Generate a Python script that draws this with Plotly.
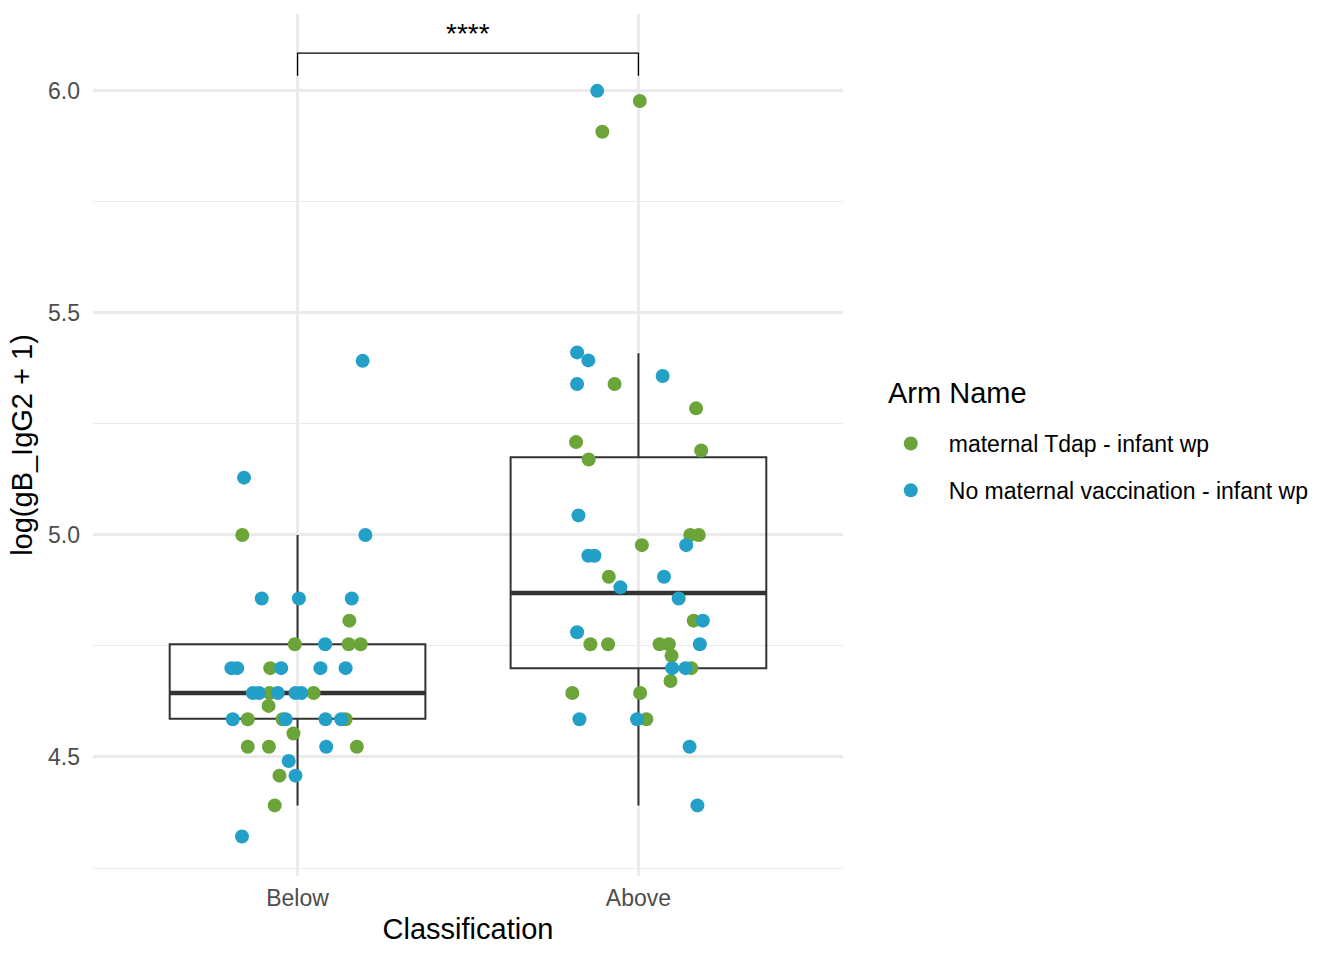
import plotly.graph_objects as go

TITLE_FONT = 'Liberation Sans, Arial, sans-serif'

CLASSES = ['Below', 'Above']
ARMS = ['maternal Tdap - infant wp', 'No maternal vaccination - infant wp']
ARM_COLORS = ['#6BA53A', '#22A0C8']
LEGEND_TITLE = 'Arm Name'

# jittered points, maternal Tdap arm (class index, jitter offset, value)
tdap_class = [0] * 18 + [1] * 22
tdap_jitter = [
    -0.162, 0.152, -0.008, 0.150, 0.185, -0.080, -0.082, 0.047, -0.085,
    -0.146, -0.044, 0.141, -0.012, -0.146, -0.084, 0.174, -0.053, -0.067,
    0.004, -0.106, -0.070, 0.169, -0.183, 0.184, -0.146, 0.152, 0.177,
    0.010, -0.087, 0.162, -0.141, -0.089, 0.062, 0.089, 0.097, 0.155,
    0.094, -0.194, 0.005, 0.023,
]
tdap_value = [
    5.000, 4.807, 4.754, 4.754, 4.754, 4.700, 4.644, 4.644, 4.615,
    4.585, 4.585, 4.585, 4.553, 4.523, 4.523, 4.523, 4.458, 4.391,
    5.977, 5.908, 5.340, 5.285, 5.209, 5.190, 5.170, 5.000, 5.000,
    4.977, 4.906, 4.807, 4.754, 4.754, 4.754, 4.754, 4.728, 4.700,
    4.671, 4.644, 4.644, 4.585,
]

# jittered points, no maternal vaccination arm
novax_class = [0] * 25 + [1] * 21
novax_jitter = [
    0.191, -0.157, 0.199, -0.105, 0.004, 0.159, 0.081, -0.194, -0.177,
    -0.048, 0.067, 0.141, -0.131, -0.113, -0.058, -0.006, 0.011, -0.190,
    -0.035, 0.082, 0.128, 0.084, -0.026, -0.006, -0.163,
    -0.121, -0.180, -0.147, 0.071, -0.180, -0.176, 0.140, -0.147, -0.129,
    0.075, -0.053, 0.118, 0.189, -0.180, 0.180, 0.099, 0.138, -0.173,
    -0.004, 0.150, 0.173,
]
novax_value = [
    5.392, 5.129, 5.000, 4.857, 4.857, 4.857, 4.754, 4.700, 4.700,
    4.700, 4.700, 4.700, 4.644, 4.644, 4.644, 4.644, 4.644, 4.585,
    4.585, 4.585, 4.585, 4.523, 4.491, 4.458, 4.321,
    6.000, 5.411, 5.393, 5.358, 5.340, 5.044, 4.977, 4.953, 4.953,
    4.906, 4.882, 4.857, 4.807, 4.781, 4.754, 4.700, 4.700, 4.585,
    4.585, 4.523, 4.391,
]

# box statistics per class
box_lower = [4.391, 4.391]
box_q1 = [4.586, 4.700]
box_median = [4.644, 4.869]
box_q3 = [4.754, 5.175]
box_upper = [5.000, 5.409]

# significance bracket
SIG_LABEL = '****'
SIG_TIP = 6.034
SIG_TOP = 6.085
SIG_TEXT_Y = 6.130

BOX_WIDTH = 0.75


def add_boxes(fig):
    idx = list(range(len(CLASSES)))
    fig.add_trace(go.Box(
        x=idx,
        q1=box_q1,
        median=box_median,
        q3=box_q3,
        lowerfence=box_lower,
        upperfence=box_upper,
        width=BOX_WIDTH,
        whiskerwidth=0,
        fillcolor='rgba(0,0,0,0)',
        line={'color': '#333333', 'width': 2},
        boxpoints=False,
        showlegend=False,
        hoverinfo='skip',
    ))
    # ggplot draws a fatter median bar
    mx, my = [], []
    for i, m in zip(idx, box_median):
        mx += [i - BOX_WIDTH / 2, i + BOX_WIDTH / 2, None]
        my += [m, m, None]
    fig.add_trace(go.Scatter(
        x=mx, y=my, mode='lines',
        line={'color': '#333333', 'width': 4.5},
        showlegend=False, hoverinfo='skip',
    ))


def add_points(fig, cls, jitter, value, name, color, group):
    fig.add_trace(go.Scatter(
        x=[c + j for c, j in zip(cls, jitter)],
        y=value,
        mode='markers',
        name=name,
        legendgroup=group,
        marker={'color': color, 'size': 14},
    ))


fig = go.Figure()
add_boxes(fig)
add_points(fig, tdap_class, tdap_jitter, tdap_value, ARMS[0], ARM_COLORS[0], 'a')
add_points(fig, novax_class, novax_jitter, novax_value, ARMS[1], ARM_COLORS[1], 'b')

fig.add_trace(go.Scatter(
    x=[0, 0, 1, 1],
    y=[SIG_TIP, SIG_TOP, SIG_TOP, SIG_TIP],
    mode='lines',
    line={'color': 'black', 'width': 1.3},
    showlegend=False, hoverinfo='skip',
))
fig.add_annotation(
    x=0.5, y=SIG_TEXT_Y, text=SIG_LABEL, showarrow=False,
    font={'size': 28, 'color': 'black'},
)
# legend title kept as its own label so the gap to the keys matches ggplot
fig.add_annotation(
    xref='paper', yref='paper', x=1.0573, y=0.5603,
    xanchor='left', yanchor='middle', showarrow=False,
    text=LEGEND_TITLE, font={'size': 29, 'color': 'black'},
)

fig.update_xaxes(
    range=[-0.6, 1.6],
    tickvals=list(range(len(CLASSES))),
    ticktext=CLASSES,
    showgrid=True, gridcolor='#EBEBEB', gridwidth=2.5,
    zeroline=False, showline=False, ticks='',
    tickfont={'size': 23, 'color': '#4D4D4D'},
    ticklabelstandoff=6,
    title={'text': 'Classification', 'font': {'size': 29, 'color': 'black'}, 'standoff': 8},
)
fig.update_yaxes(
    range=[4.232, 6.173],
    tickvals=[4.5, 5.0, 5.5, 6.0],
    ticktext=['4.5', '5.0', '5.5', '6.0'],
    showgrid=True, gridcolor='#EBEBEB', gridwidth=2.5,
    minor={'tickvals': [4.25, 4.75, 5.25, 5.75], 'showgrid': True,
           'gridcolor': '#EBEBEB', 'gridwidth': 1.3},
    zeroline=False, showline=False, ticks='',
    tickfont={'size': 23, 'color': '#4D4D4D'},
    ticklabelstandoff=12,
    title={'text': 'log(gB_IgG2 + 1)', 'font': {'size': 29, 'color': 'black'}, 'standoff': 6},
)

fig.update_layout(
    width=1344,
    height=960,
    font={'family': TITLE_FONT},
    plot_bgcolor='white',
    paper_bgcolor='white',
    margin={'l': 93, 'r': 501, 't': 14, 'b': 84, 'autoexpand': False},
    legend={
        'font': {'size': 23, 'color': 'black'},
        'x': 1.0397, 'xanchor': 'left',
        'y': 0.4745, 'yanchor': 'middle',
        'tracegroupgap': 14,
        'itemwidth': 66,
    },
)

fig.write_html(
    'out.html',
    config={'displayModeBar': False},
    post_script="document.body.style.margin = '0px';",
)
